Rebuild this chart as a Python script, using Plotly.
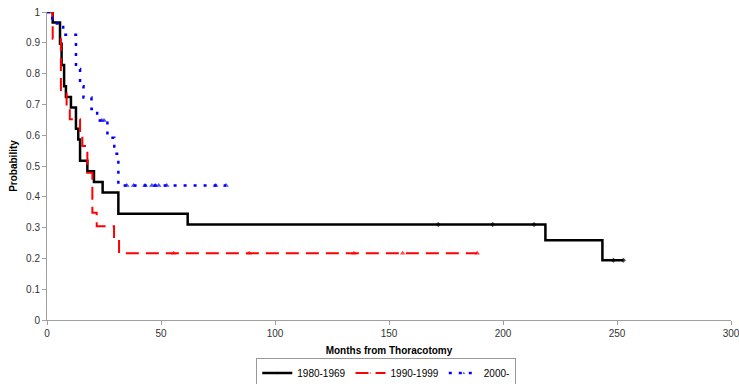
import plotly.graph_objects as go

# ---- data ----
series_names = ["1980-1969", "1990-1999", "2000-"]

black_months = [0, 2.5, 5.7, 6.4, 7.5, 8.3, 10.5, 12.7, 13.7, 14.5, 17.7, 20.6, 24.4, 31.3, 61.7,
                171.6, 195.5, 213.6, 218.6, 243.6, 248.4, 252.8]
black_prob = [1, 0.966, 0.897, 0.828, 0.759, 0.724, 0.690, 0.621, 0.586, 0.517, 0.483, 0.448, 0.414,
              0.345, 0.310, 0.310, 0.310, 0.310, 0.259, 0.194, 0.194, 0.194]
black_cens = [0, 0, 0, 0, 0, 0, 0, 0, 0, 0, 0, 0, 0, 0, 0, 1, 1, 1, 0, 0, 1, 1]

red_months = [0, 2.5, 6.1, 8.6, 10.0, 14.5, 15.5, 17.7, 19.9, 21.8, 29.4, 31.6,
              55.5, 88.7, 134.6, 156.0, 188.7]
red_prob = [1, 0.913, 0.739, 0.696, 0.652, 0.609, 0.565, 0.478, 0.348, 0.304, 0.261, 0.217,
            0.217, 0.217, 0.217, 0.217, 0.217]
red_cens = [0, 0, 0, 0, 0, 0, 0, 0, 0, 0, 0, 0, 1, 1, 1, 1, 1]

blue_months = [0, 2.3, 7.1, 12.7, 14.5, 16.0, 19.5, 22.0, 24.0, 25.0, 26.5, 29.5, 31.3,
               35.0, 38.0, 43.0, 46.0, 47.5, 49.0, 52.5, 74.0, 78.5]
blue_prob = [1, 0.963, 0.926, 0.815, 0.759, 0.722, 0.685, 0.648, 0.648, 0.648, 0.592, 0.540, 0.437,
             0.437, 0.437, 0.437, 0.437, 0.437, 0.437, 0.437, 0.437, 0.437]
blue_cens = [0, 0, 0, 0, 0, 0, 0, 0, 1, 1, 0, 0, 0, 1, 1, 1, 1, 1, 1, 1, 1, 1]

x_ticks = [0, 50, 100, 150, 200, 250, 300]
y_ticks = [0, 0.1, 0.2, 0.3, 0.4, 0.5, 0.6, 0.7, 0.8, 0.9, 1]

FONT = "Liberation Sans, Arial, sans-serif"

fig = go.Figure()

def add_series(name, xs, ys, cens, color, dash, symbol, msize, width):
    fig.add_trace(go.Scatter(
        x=xs, y=ys, name=name, mode="lines+markers",
        line=dict(color=color, width=width, dash=dash, shape="hv"),
        marker=dict(color=color, symbol=symbol,
                    size=[msize if c else 0 for c in cens], line=dict(width=0)),
    ))

add_series(series_names[0], black_months, black_prob, black_cens, "#000000", "solid", "diamond", 4, 2.5)
add_series(series_names[1], red_months, red_prob, red_cens, "#ff0000", "13px,7px", "triangle-up", 5, 2)
add_series(series_names[2], blue_months, blue_prob, blue_cens, "#0000ff", "3px,7px", "triangle-up", 5, 2.5)

axis_common = dict(
    showline=True, linecolor="#a0a0a0", linewidth=1,
    ticks="outside", ticklen=4, tickcolor="#a0a0a0",
    showgrid=False, zeroline=False, automargin=False,
    ticklabeloverflow="allow",
    tickfont=dict(family=FONT, size=10, color="#333333"),
)

fig.update_xaxes(range=[0, 300], tickvals=x_ticks,
                 title=dict(text="<b>Months from Thoracotomy</b>",
                            font=dict(family=FONT, size=10, color="#000000"), standoff=8),
                 **axis_common)
fig.update_yaxes(range=[0, 1], tickvals=y_ticks,
                 title=dict(text="<b>Probability</b>",
                            font=dict(family=FONT, size=10, color="#000000"), standoff=6),
                 **axis_common)

fig.update_layout(
    width=739, height=384,
    margin=dict(l=47, r=8, t=12, b=64, autoexpand=False),
    paper_bgcolor="white", plot_bgcolor="white",
    font=dict(family=FONT, size=10, color="#000000"),
    showlegend=True,
    legend=dict(orientation="h", x=0.496, xanchor="center", y=-0.122, yanchor="top",
                bordercolor="#999999", borderwidth=1, bgcolor="white",
                font=dict(family=FONT, size=10), itemwidth=30,
                tracegroupgap=0),
)

# remove the page's default 8px body margin so the figure sits at (0, 0)
fig.write_html("out.html", config={"displayModeBar": False},
               post_script="document.body.style.margin='0';")
